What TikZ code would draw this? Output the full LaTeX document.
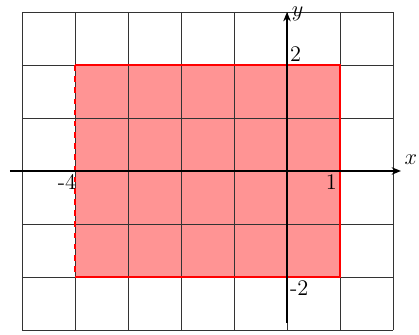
\documentclass[tikz,border=0pt]{standalone}
\usetikzlibrary{arrows.meta}
\begin{document}
\begin{tikzpicture}[
  gridline/.style={draw=black!80, line width=0.45pt},
  axisline/.style={draw=black, line width=1pt, -{Stealth[length=5pt,width=4pt]}},
  region/.style={fill=red!42, draw=none},
  edge/.style={draw=red, line width=1pt},
  lbl/.style={inner sep=1.5pt, font=\large}
]
\useasboundingbox (-5.415,-3.094) rectangle (2.49,3.226);
\fill[region] (-4,-2) rectangle (1,2);
\draw[gridline] (-5,-3) grid (2,3);
\coordinate (A) at (-4,-2);
\coordinate (B) at (1,-2);
\coordinate (C) at (1,2);
\coordinate (D) at (-4,2);
\draw[edge] (A) -- (B) -- (C) -- (D);
\draw[edge, dashed] (D) -- (A);
\coordinate (xs) at (-5.23,0);
\coordinate (xe) at (2.15,0);
\coordinate (ys) at (0,-2.87);
\coordinate (ye) at (0,3.0);
\draw[axisline] (xs) -- (xe);
\draw[axisline] (ys) -- (ye);
\node[lbl, anchor=west] (xl) at (2.16,0.22) {$x$};
\node[lbl, anchor=west] (yl) at (0.03,2.96) {$y$};
\node[lbl, anchor=north east] (lm4) at (-3.92,0) {-4};
\node[lbl, anchor=north east] (l1) at (1,0) {1};
\node[lbl, anchor=south west] (l2) at (0,2) {2};
\node[lbl, anchor=north west] (lm2) at (0,-2) {-2};
\end{tikzpicture}
\end{document}
